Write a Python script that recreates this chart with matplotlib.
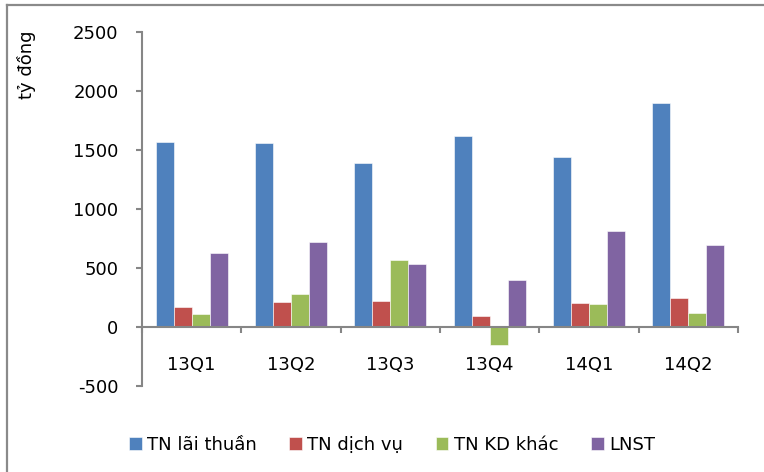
import matplotlib.pyplot as plt
import numpy as np
from matplotlib.lines import Line2D

plt.rcParams['font.family'] = ['DejaVu Sans']
plt.rcParams['axes.unicode_minus'] = False

quarters = ['13Q1', '13Q2', '13Q3', '13Q4', '14Q1', '14Q2']
lai_thuan = [1565, 1555, 1385, 1617, 1437, 1900]
dich_vu = [172, 211, 222, 93, 205, 248]
kd_khac = [110, 276, 566, -155, 194, 121]
lnst = [625, 721, 532, 394, 812, 693]

series = [
    ('TN lãi thuần', lai_thuan, '#4F81BD'),
    ('TN dịch vụ', dich_vu, '#C0504D'),
    ('TN KD khác', kd_khac, '#9BBB59'),
    ('LNST', lnst, '#8064A2'),
]

fs = 13

fig = plt.figure(figsize=(7.64, 4.72), dpi=100)
ax = fig.add_axes([142 / 764, 1 - 386 / 472, (738 - 142) / 764, (386 - 31.8) / 472])

x = np.arange(len(quarters)) + 0.5
w = 0.182
for i, (name, vals, col) in enumerate(series):
    ax.bar(x + (i - 1.5) * w, vals, w, color=col, label=name,
           edgecolor='white', linewidth=0.4)

ax.set_xlim(0, len(quarters))
ax.set_ylim(-500, 2500)
ax.set_yticks(range(-500, 2501, 500))

ax.spines['top'].set_visible(False)
ax.spines['right'].set_visible(False)
ax.spines['bottom'].set_position(('data', 0))
for s in ['left', 'bottom']:
    ax.spines[s].set_color('#868686')
    ax.spines[s].set_linewidth(1.5)

ax.set_xticks(np.arange(len(quarters) + 1))
ax.set_xticklabels([])
ax.set_xticks(x, minor=True)
ax.set_xticklabels(quarters, minor=True)
ax.tick_params(axis='x', which='major', length=4, width=1.5, color='#868686', direction='out')
ax.tick_params(axis='x', which='minor', length=0, pad=21, labelsize=fs)
ax.tick_params(axis='y', length=4, width=1.5, color='#868686', pad=13, labelsize=fs)

fig.text(27 / 764, 1 - 65 / 472, 'tỷ đồng', rotation=90, ha='center', va='center', fontsize=fs)

fig.legend(loc='center', bbox_to_anchor=(392 / 764, 1 - 445 / 472), ncol=4, frameon=False,
           fontsize=fs, handlelength=0.7, handleheight=0.7, handletextpad=0.3,
           columnspacing=1.8)

# outer frame
fig.add_artist(Line2D([7 / 764, 1], [1 - 4.5 / 472, 1 - 4.5 / 472], color='#8a8a8a', lw=1.6,
                      transform=fig.transFigure))
fig.add_artist(Line2D([7 / 764, 7 / 764], [0, 1 - 4.5 / 472], color='#8a8a8a', lw=1.6,
                      transform=fig.transFigure))

fig.savefig('out.png', dpi=100)
